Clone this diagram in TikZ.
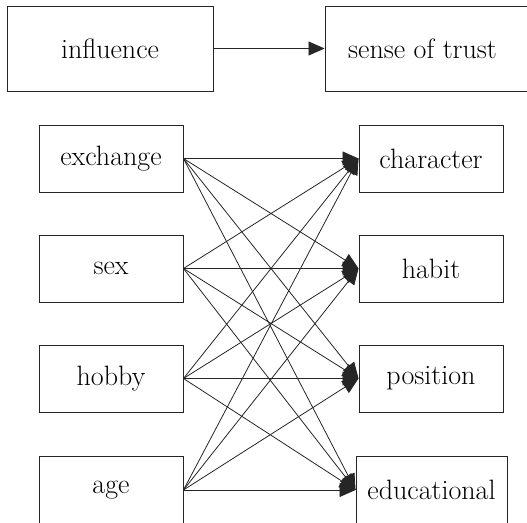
\documentclass[tikz,border=0pt]{standalone}
\usetikzlibrary{arrows.meta}
\begin{document}
\begin{tikzpicture}[x=1pt,y=1pt,
  box/.style={draw=black!85,line width=0.9pt,inner sep=0pt,minimum width=144pt,minimum height=67pt,font=\fontsize{28}{34}\selectfont},
  topbox/.style={box,minimum width=206pt,minimum height=85pt},
  arr/.style={draw=black!85,line width=0.8pt,-{Triangle[length=16pt,width=14pt]}}]
\useasboundingbox (0,0) rectangle (527,522);
\node[topbox] (influence) at (110,473.5) {influence};
\node[topbox,minimum width=214pt] (trust) at (432,473.5) {\hspace*{-19pt}sense of trust};
\draw[arr] (influence.east) -- (trust.west);
\node[box] (exchange) at (111,363.5) {exchange};
\node[box] (sex) at (111,253.5) {sex};
\node[box] (hobby) at (111,143.5) {hobby};
\node[box] (age) at (111,32) {age};
\node[box] (character) at (431,363.5) {character};
\node[box] (habit) at (431,253.5) {habit};
\node[box] (position) at (431,143.5) {position};
\node[box,minimum width=151pt] (educational) at (431.5,32) {educational};
\foreach \s in {exchange,sex,hobby,age}
  \foreach \t in {character,habit,position,educational}
    \draw[arr] (\s.east) -- (\t.west);
\end{tikzpicture}
\end{document}
